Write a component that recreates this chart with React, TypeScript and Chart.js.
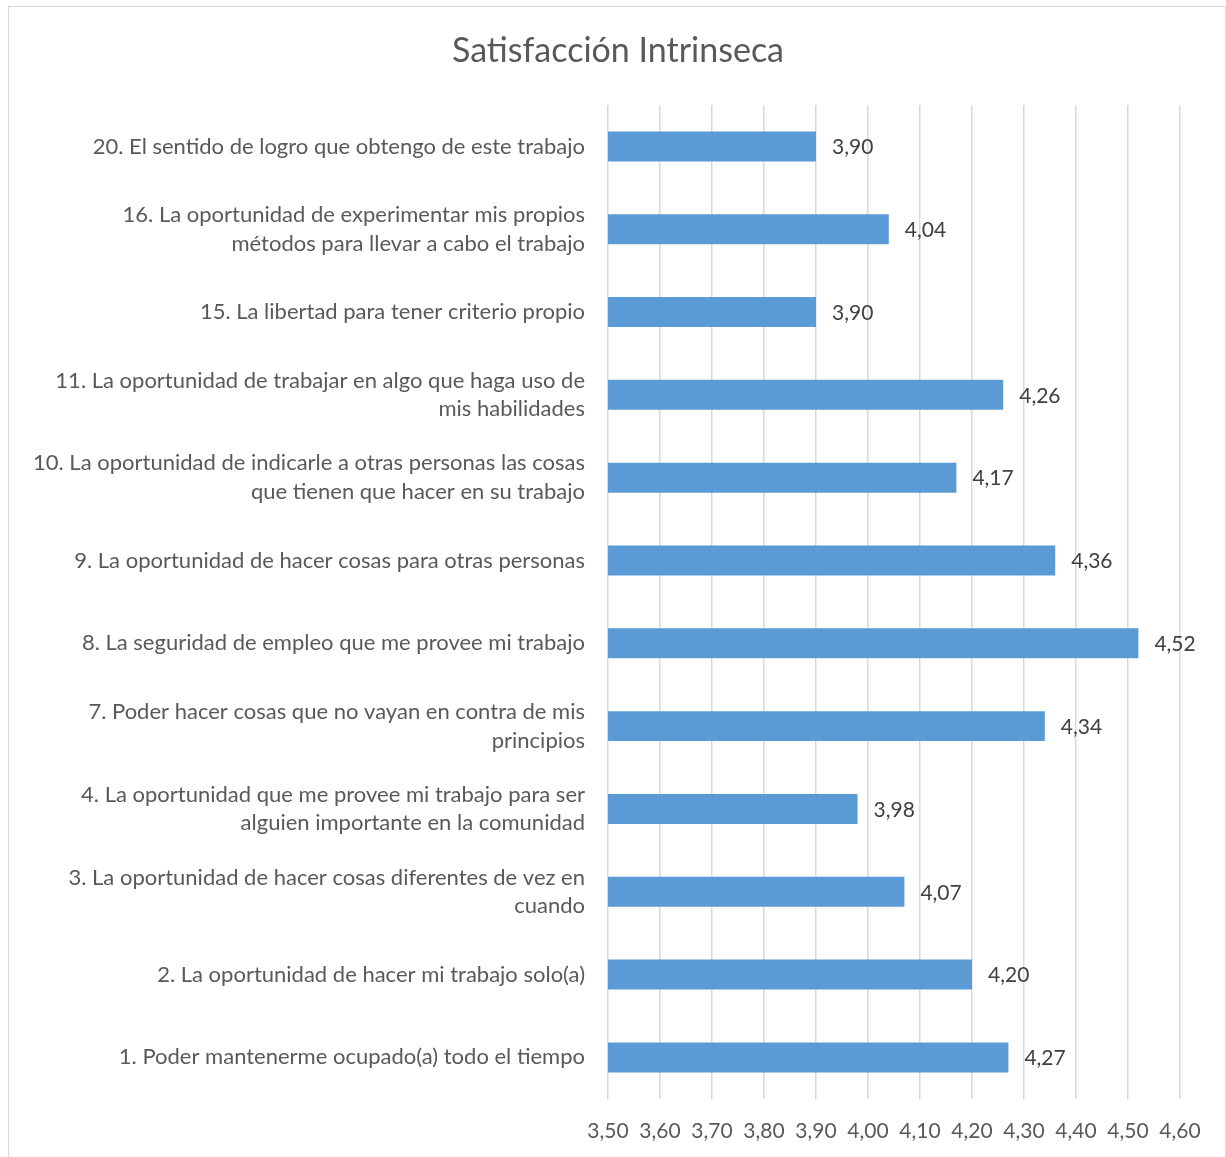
import React, { useEffect, useRef } from "react";
import { Chart, registerables } from "chart.js";

Chart.register(...registerables);

const TITLE = "Satisfacción Intrinseca";

const CATEGORIES: (string | string[])[] = [
  "20. El sentido de logro que obtengo de este trabajo",
  ["16. La oportunidad de experimentar mis propios", "métodos para llevar a cabo el trabajo"],
  "15. La libertad para tener criterio propio",
  ["11. La oportunidad de trabajar en algo que haga uso de", "mis habilidades"],
  ["10. La oportunidad de indicarle a otras personas las cosas", "que tienen que hacer en su trabajo"],
  "9. La oportunidad de hacer cosas para otras personas",
  "8. La seguridad de empleo que me provee mi trabajo",
  ["7. Poder hacer cosas que no vayan en contra de mis", "principios"],
  ["4. La oportunidad que me provee mi trabajo para ser", "alguien importante en la comunidad"],
  ["3. La oportunidad de hacer cosas diferentes de vez en", "cuando"],
  "2. La oportunidad de hacer mi trabajo solo(a)",
  "1. Poder mantenerme ocupado(a) todo el tiempo",
];

const VALUES: number[] = [3.9, 4.04, 3.9, 4.26, 4.17, 4.36, 4.52, 4.34, 3.98, 4.07, 4.2, 4.27];

const X_MIN = 3.5;
const X_MAX = 4.6;
const X_STEP = 0.1;

const FONT = "Lato, 'Open Sans', sans-serif";
const fmt = (v: number) => v.toFixed(2).replace(".", ",");

const dataLabelPlugin = {
  id: "dataLabels",
  afterDatasetsDraw(chart: any) {
    const ctx = chart.ctx;
    const meta = chart.getDatasetMeta(0);
    ctx.save();
    ctx.font = `21px ${FONT}`;
    ctx.fillStyle = "#404040";
    ctx.textAlign = "left";
    ctx.textBaseline = "middle";
    meta.data.forEach((bar: any, i: number) => {
      ctx.fillText(fmt(VALUES[i]), bar.x + 16, bar.y + 1);
    });
    ctx.restore();
  },
};

const titlePlugin = {
  id: "customTitle",
  afterDraw(chart: any) {
    const ctx = chart.ctx;
    ctx.save();
    ctx.font = `34px ${FONT}`;
    ctx.fillStyle = "#595959";
    ctx.textAlign = "center";
    ctx.textBaseline = "middle";
    ctx.fillText(TITLE, 609, 44);
    ctx.restore();
  },
};

export default function App() {
  const ref = useRef<HTMLCanvasElement | null>(null);
  useEffect(() => {
    if (!ref.current) return;
    const chart = new Chart(ref.current, {
      type: "bar",
      data: {
        labels: CATEGORIES,
        datasets: [
          {
            data: VALUES,
            backgroundColor: "#5B9BD5",
            borderWidth: 0,
            barPercentage: 0.362,
            categoryPercentage: 1,
          },
        ],
      },
      options: {
        indexAxis: "y",
        responsive: false,
        animation: false,
        layout: { padding: { left: 0, right: 45, top: 98, bottom: 1 } },
        plugins: {
          legend: { display: false },
          tooltip: { enabled: false },
          title: { display: false },
        },
        scales: {
          x: {
            min: X_MIN,
            max: X_MAX,
            grid: { color: "#d9d9d9", lineWidth: 1.5, drawTicks: false },
            border: { display: false },
            ticks: {
              stepSize: X_STEP,
              padding: 20,
              color: "#595959",
              font: { family: FONT, size: 21 },
              callback: (v: any) => fmt(Number(v)),
            },
          },
          y: {
            grid: { display: false, drawTicks: false },
            border: { display: false },
            ticks: {
              padding: 23,
              color: "#595959",
              font: { family: FONT, size: 22, lineHeight: 1.3 },
            },
            afterFit: (scale: any) => {
              scale.width = 599;
            },
          },
        },
      },
      plugins: [dataLabelPlugin, titlePlugin],
    });
    return () => chart.destroy();
  }, []);

  return (
    <div
      style={{
        position: "fixed",
        left: 8,
        top: 6,
        width: 1218,
        height: 1160,
        border: "1px solid #d9d9d9",
        boxSizing: "border-box",
        background: "#fff",
      }}
    >
      <canvas ref={ref} width={1216} height={1158} style={{ display: "block" }} />
    </div>
  );
}
